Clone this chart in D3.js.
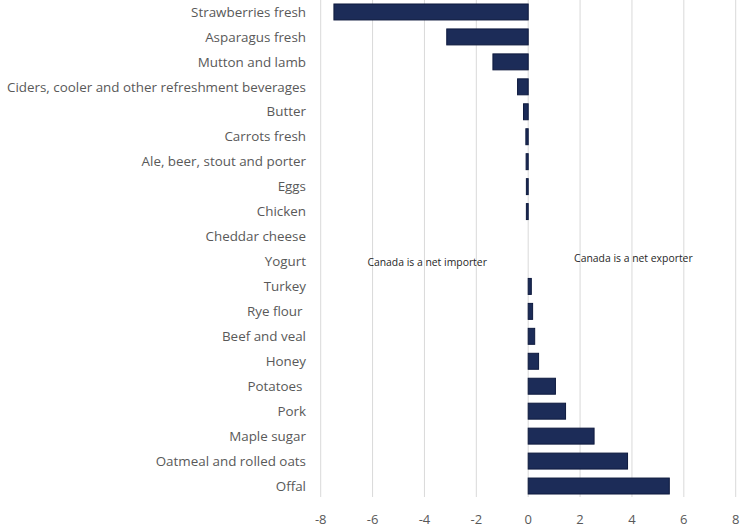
<!DOCTYPE html>
<html><head><meta charset="utf-8">
<script src="https://cdn.jsdelivr.net/npm/d3@7"></script>
<style>body{margin:0;background:#fff}svg{display:block}text{white-space:pre}</style>
</head><body>
<svg id="c" width="750" height="529"></svg>
<script>
const categories = ["Strawberries fresh","Asparagus fresh","Mutton and lamb","Ciders, cooler and other refreshment beverages","Butter","Carrots fresh","Ale, beer, stout and porter","Eggs","Chicken","Cheddar cheese","Yogurt","Turkey","Rye flour ","Beef and veal","Honey","Potatoes ","Pork","Maple sugar","Oatmeal and rolled oats","Offal"];
const values = [-7.49,-3.14,-1.36,-0.41,-0.18,-0.09,-0.08,-0.07,-0.07,0,0,0.12,0.17,0.25,0.4,1.05,1.44,2.54,3.83,5.44];
const xTicks = [-8,-6,-4,-2,0,2,4,6,8];
const annotations = [{text:"Canada is a net importer", v:-6.2, row:10, dy:1},{text:"Canada is a net exporter", v:1.77, row:10, dy:-3}];

const svg = d3.select("#c");
const x = d3.scaleLinear().domain([-8,8]).range([320.7,735.7]);
const y = d3.scaleBand().domain(categories).range([-0.5,498.5]).paddingInner(0.36).paddingOuter(0.18);
const font = "'Open Sans', sans-serif";

svg.append("g").selectAll("line").data(xTicks).join("line")
  .attr("x1",d=>x(d)).attr("x2",d=>x(d)).attr("y1",0).attr("y2",497)
  .attr("stroke","#d9d9d9").attr("stroke-width",1);

svg.append("g").selectAll("rect").data(values).join("rect")
  .attr("x",(d)=>x(Math.min(0,d))).attr("width",d=>Math.abs(x(d)-x(0)))
  .attr("y",(d,i)=>y(categories[i])).attr("height",y.bandwidth())
  .attr("fill",d=>d===0?"none":"#1c2c58").attr("stroke",d=>d===0?"none":"#0e1a3e").attr("stroke-width",1);

svg.append("g").selectAll("text").data(categories).join("text")
  .attr("x",306).attr("y",d=>y(d)+y.bandwidth()/2).attr("dy","0.35em")
  .attr("text-anchor","end").attr("font-family",font).attr("font-size",13.4).attr("fill","#595959")
  .text(d=>d);

svg.append("g").selectAll("text").data(xTicks).join("text")
  .attr("x",d=>x(d)).attr("y",519).attr("dy","0.35em").attr("text-anchor","middle")
  .attr("font-family",font).attr("font-size",13).attr("fill","#595959").text(d=>d);

svg.append("g").selectAll("text").data(annotations).join("text")
  .attr("x",d=>x(d.v)).attr("y",d=>y(categories[d.row])+y.bandwidth()/2+d.dy).attr("dy","0.35em")
  .attr("font-family",font).attr("font-size",10.4).attr("fill","#262626").text(d=>d.text);
</script>
</body></html>
